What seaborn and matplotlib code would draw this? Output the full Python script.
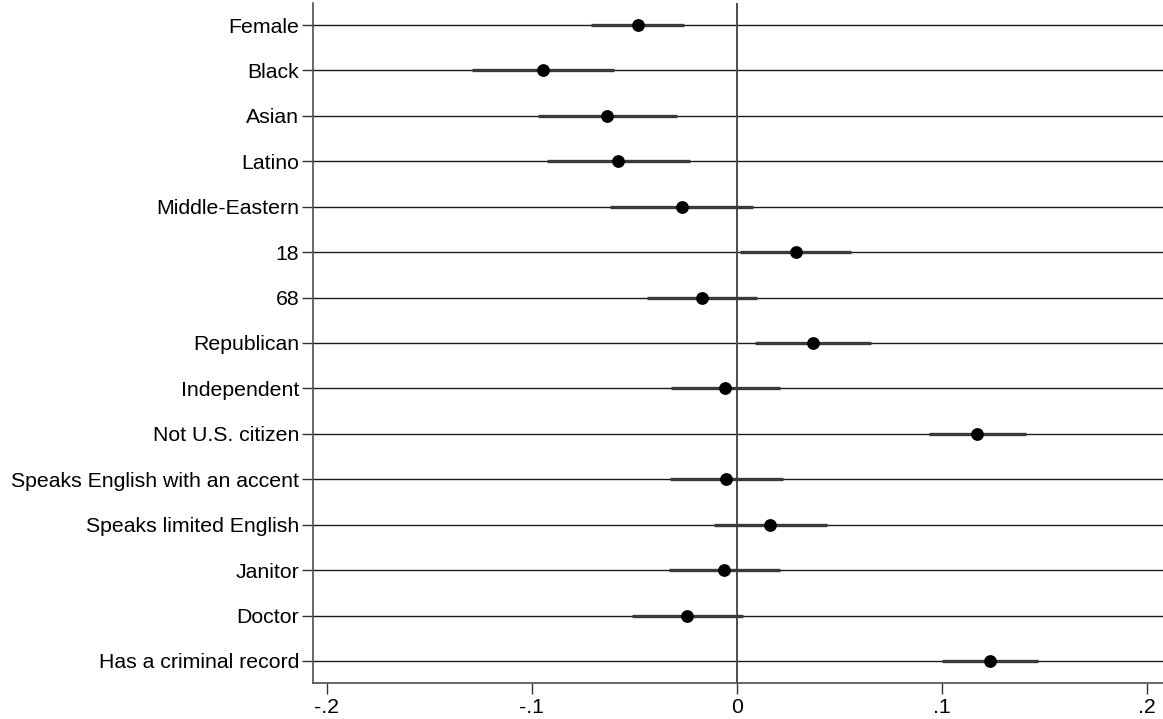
import numpy as np
import pandas as pd
import matplotlib
matplotlib.use('Agg')
import matplotlib.pyplot as plt
import seaborn as sns

# Data
labels = ['Female', 'Black', 'Asian', 'Latino', 'Middle-Eastern', '18', '68',
          'Republican', 'Independent', 'Not U.S. citizen',
          'Speaks English with an accent', 'Speaks limited English',
          'Janitor', 'Doctor', 'Has a criminal record']
coef = [-0.0483, -0.0945, -0.0633, -0.0578, -0.0268, 0.0288, -0.0171,
        0.0374, -0.0057, 0.1172, -0.0052, 0.0164, -0.0060, -0.0244, 0.1237]
ci_low = [-0.0712, -0.1290, -0.0970, -0.0924, -0.0617, 0.0016, -0.0439,
          0.0091, -0.0320, 0.0940, -0.0327, -0.0112, -0.0329, -0.0512, 0.1003]
ci_high = [-0.0257, -0.0600, -0.0293, -0.0228, 0.0078, 0.0558, 0.0099,
           0.0654, 0.0211, 0.1410, 0.0224, 0.0440, 0.0211, 0.0029, 0.1468]
xticks = [-0.2, -0.1, 0, 0.1, 0.2]
xticklabels = ['-.2', '-.1', '0', '.1', '.2']

df = pd.DataFrame({'label': labels, 'coef': coef, 'lo': ci_low, 'hi': ci_high})
df['pos'] = np.arange(len(df))

sns.set_style('white')
plt.rcParams['font.family'] = ['Liberation Sans', 'DejaVu Sans']

fig = plt.figure(figsize=(11.63, 7.19), dpi=100)
ax = fig.add_axes([0.2691, 0.0501, 0.7309, 0.9457])

# row lines
ax.hlines(df['pos'], -0.2068, 0.21, color='#1a1a1a', linewidth=1.0, zorder=1)
# zero line
ax.axvline(0, color='#4d4d4d', linewidth=1.4, zorder=1.5)
# confidence intervals
ax.hlines(df['pos'], df['lo'], df['hi'], color='#3a3a3a', linewidth=2.4, zorder=2)
sns.scatterplot(data=df, x='coef', y='pos', color='black', s=85,
                edgecolor='black', linewidth=0, zorder=3, ax=ax)

ax.set_xlim(-0.2068, 0.208)
ax.set_ylim(len(df) - 1 + 0.484, -0.484)
ax.set_yticks(df['pos'], df['label'])
ax.set_xticks(xticks, xticklabels)
ax.set_xlabel('')
ax.set_ylabel('')

for side in ['top', 'right']:
    ax.spines[side].set_visible(False)
for side in ['left', 'bottom']:
    ax.spines[side].set_color('#4d4d4d')
    ax.spines[side].set_linewidth(1.2)

ax.tick_params(axis='both', which='major', direction='out', length=8, width=1.0,
               color='#333333', labelsize=15.3, labelcolor='black', pad=3,
               bottom=True, left=True)
ax.tick_params(axis='y', pad=2)

fig.savefig('out.png', dpi=100)
